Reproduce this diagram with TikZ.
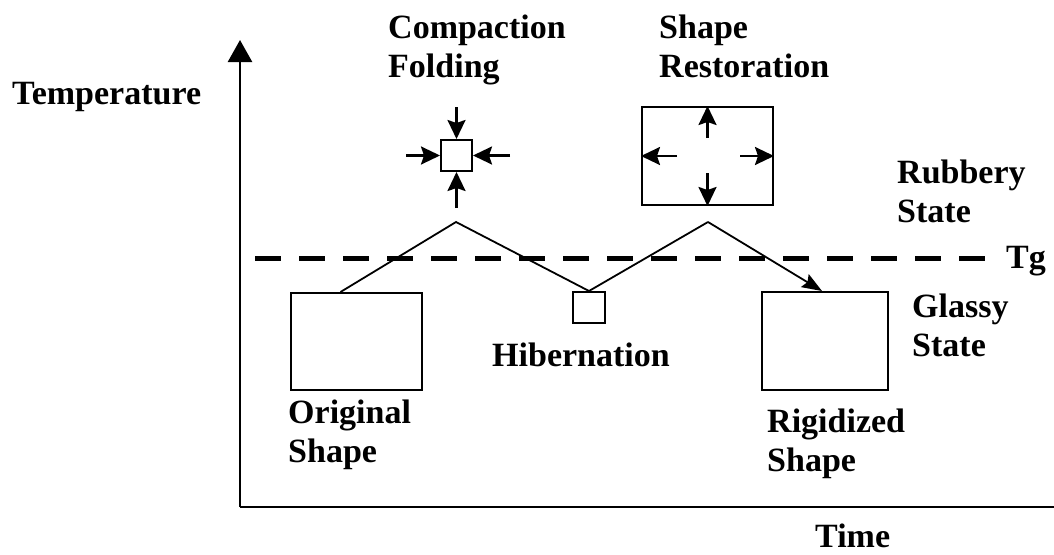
\documentclass[tikz,border=0pt]{standalone}
\usepackage{fontspec}
\setmainfont{Liberation Serif}
\usetikzlibrary{arrows.meta,calc}
\begin{document}
\begin{tikzpicture}[x=1pt,y=-1pt,
  lbl/.style={font=\bfseries\fontsize{34}{39}\selectfont, inner sep=0pt, anchor=base west, align=left},
  box/.style={draw, line width=2pt, inner sep=0pt},
  arr/.style={line width=2.4pt, -{Stealth[length=19pt,width=18pt,inset=3pt]}},
  zig/.style={line width=1.8pt},
  axis/.style={line width=2.5pt}]
\useasboundingbox (0,0) rectangle (1054,554);
% axes
\coordinate (O) at (240,507);
\coordinate (ytop) at (240,40);
\coordinate (xend) at (1054,507);
\draw[axis,-{Triangle[length=22pt,width=24pt]}] (O) -- (ytop);
\draw[axis] (O) -- (xend);
% Tg dashed line
\coordinate (d1) at (255,258);
\coordinate (d2) at (985,258);
\draw[line width=5pt, dash pattern=on 26pt off 18pt] (d1) -- (d2);
% boxes
\node[box, minimum width=131pt, minimum height=97pt] (orig) at (356.5,341.5) {};
\node[box, minimum width=32pt, minimum height=31pt] (hib) at (589,307.5) {};
\node[box, minimum width=31pt, minimum height=31pt] (comp) at (456.5,155.5) {};
\node[box, minimum width=131pt, minimum height=98pt] (rest) at (707.5,156) {};
\node[box, minimum width=126pt, minimum height=98pt] (rig) at (825,341) {};
% compaction arrows
\coordinate (ct) at (456.5,107);
\coordinate (cb) at (456.5,208);
\coordinate (cl) at (406,155.5);
\coordinate (cr) at (510,155.5);
\draw[arr] (ct) -- (comp.north);
\draw[arr] (cb) -- (comp.south);
\draw[arr] (cl) -- (comp.west);
\draw[arr] (cr) -- (comp.east);
% restoration arrows
\coordinate (ru) at (707.5,138);
\coordinate (rd) at (707.5,173);
\coordinate (rl) at (677,156);
\coordinate (rr) at (740,156);
\draw[arr] (ru) -- (rest.north);
\draw[arr] (rd) -- (rest.south);
\draw[arr] (rl) -- (rest.west);
\draw[arr] (rr) -- (rest.east);
% zigzag
\coordinate (p1) at (456,222);
\coordinate (p2) at (708,222);
\draw[zig] ($(orig.north)+(-16,0)$) -- (p1) -- (hib.north) -- (p2);
\draw[zig,-{Stealth[length=20pt,width=15pt,inset=3pt]}] (p2) -- ($(rig.north)+(-3,0)$);
% labels (base = baseline of the last line)
\node[lbl] (temp) at (12,104) {Temperature};
\node[lbl] (compl) at (388,77) {Compaction\\Folding};
\node[lbl] (restl) at (659,77) {Shape\\Restoration};
\node[lbl] (rub) at (897,222) {Rubbery\\State};
\node[lbl] (tg) at (1006,268) {Tg};
\node[lbl] (gla) at (912,356) {Glassy\\State};
\node[lbl] (hibl) at (492,366) {Hibernation};
\node[lbl] (origl) at (288,462) {Original\\Shape};
\node[lbl] (rigl) at (767,471) {Rigidized\\Shape};
\node[lbl] (time) at (815,547) {Time};
\end{tikzpicture}
\end{document}
